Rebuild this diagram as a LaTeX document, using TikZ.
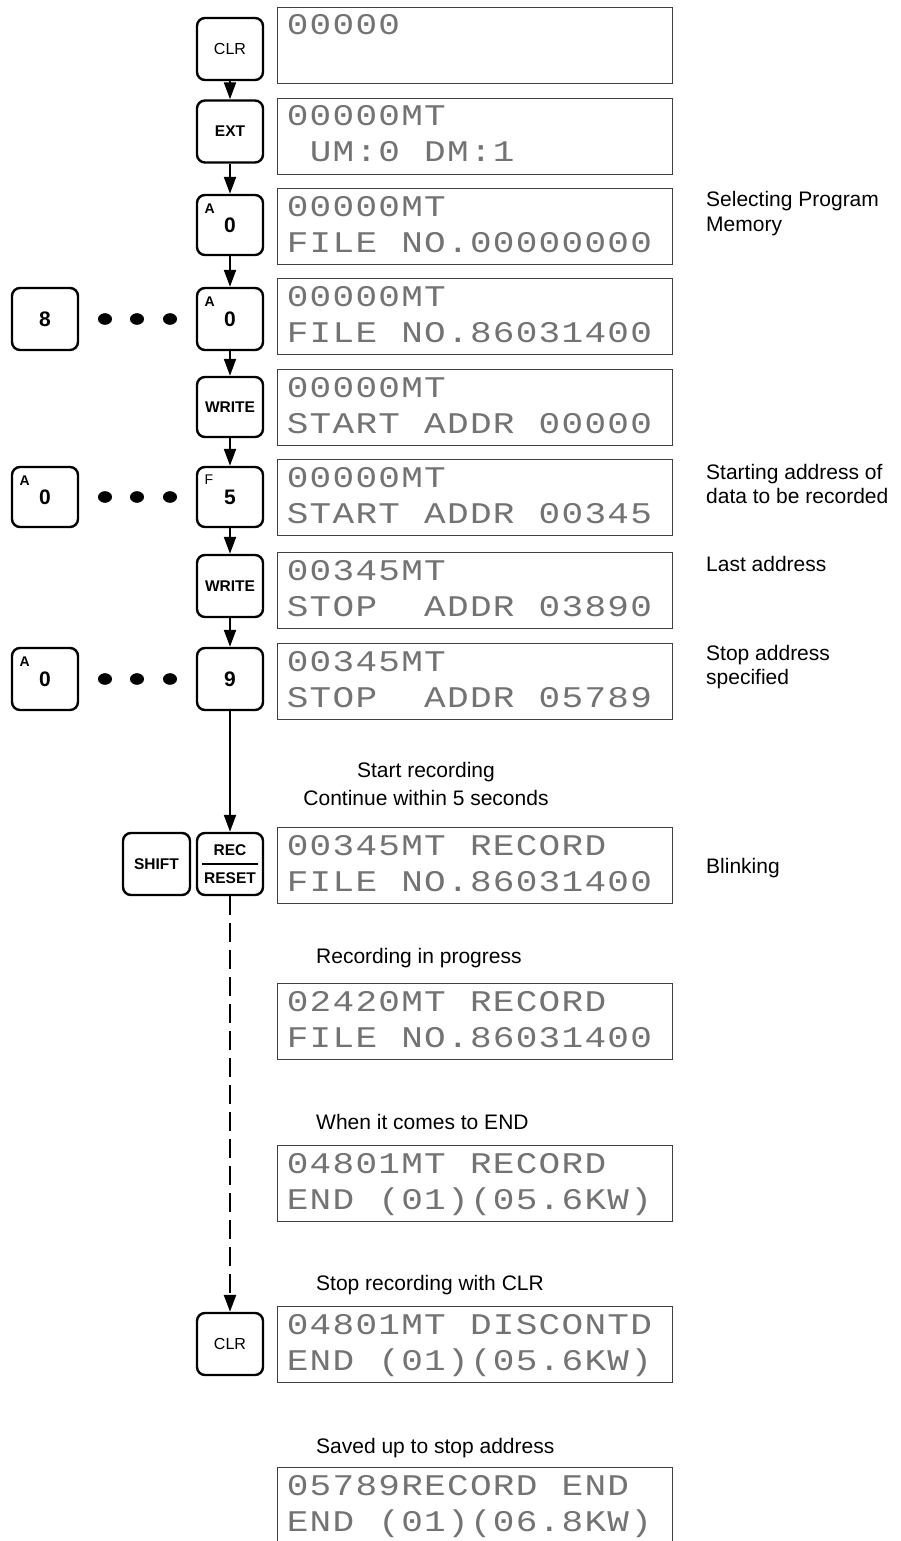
\documentclass[tikz,border=0pt]{standalone}
\usepackage{fontspec}
\setmainfont{Liberation Sans}
\newfontfamily\lcdfamily[FakeStretch=1.2]{Liberation Mono}
\usetikzlibrary{arrows.meta,calc}
\newcommand\lcd[1]{\lcdloop#1\relax}
\def\lcdloop#1{\ifx#1\relax\else\hbox to 22.9pt{\hss\lcdch#1\hss}\expandafter\lcdloop\fi}
\def\lcdch#1{\if*#1\else#1\fi}
\newcommand\keyfont{\fontsize{15.5}{18}\selectfont\bfseries}
\newcommand\keyreg{\fontsize{16}{18}\selectfont}
\newcommand\numfont{\fontsize{21}{24}\selectfont\bfseries}
\newcommand\supfont{\fontsize{14}{16}\selectfont\bfseries}
\newcommand\labfont{\fontsize{21}{24}\selectfont}
\begin{document}
\begin{tikzpicture}[x=1pt,y=-1pt,
  key/.style={draw, line width=2.4pt, rounded corners=8pt, minimum width=66pt,
    minimum height=62pt, inner sep=0pt, font=\keyfont},
  lcdbox/.style={draw=black!75, line width=1.3pt, minimum width=395pt,
    minimum height=76pt, inner sep=0pt},
  lcdtxt/.style={anchor=base west, inner sep=0pt, text=black!55,
    font=\lcdfamily\fontsize{30}{32}\selectfont},
  suplbl/.style={inner sep=0pt, font=\supfont},
  lbl/.style={anchor=base west, inner sep=0pt, font=\labfont},
  clbl/.style={anchor=base, inner sep=0pt, font=\labfont},
  arr/.style={line width=2.2pt, -{Triangle[length=17pt,width=12pt]}},
  dotmark/.style={fill=black}
]
\useasboundingbox (0,0) rectangle (900,1541);

% ---------- LCD boxes ----------
\foreach \n/\t in {1/7,2/98,3/188,4/278,5/369,6/459,7/552,8/643,9/827,10/983,11/1145,12/1306,13/1467}{
  \node[lcdbox, anchor=north west] (box\n) at (277,\t) {};
}
\newcommand\lcdlines[4]{%
  \node[lcdtxt] (#1a) at (286,#2+28) {\lcd{#3}};
  \node[lcdtxt] (#1b) at (286,#2+64) {\lcd{#4}};}
\node[lcdtxt] (t1a) at (286,35) {\lcd{00000}};
\lcdlines{t2}{98}{00000MT}{*UM:0*DM:1}
\lcdlines{t3}{188}{00000MT}{FILE*NO.00000000}
\lcdlines{t4}{278}{00000MT}{FILE*NO.86031400}
\lcdlines{t5}{369}{00000MT}{START*ADDR*00000}
\lcdlines{t6}{459}{00000MT}{START*ADDR*00345}
\lcdlines{t7}{552}{00345MT}{STOP**ADDR*03890}
\lcdlines{t8}{643}{00345MT}{STOP**ADDR*05789}
\lcdlines{t9}{827}{00345MT*RECORD}{FILE*NO.86031400}
\lcdlines{t10}{983}{02420MT*RECORD}{FILE*NO.86031400}
\lcdlines{t11}{1145}{04801MT*RECORD}{END*(01)(05.6KW)}
\lcdlines{t12}{1306}{04801MT*DISCONTD}{END*(01)(05.6KW)}
\lcdlines{t13}{1467}{05789RECORD*END}{END*(01)(06.8KW)}

% ---------- keys, main column ----------
\node[key, font=\keyreg] (clr1) at (230,49) {CLR};
\node[key] (ext) at (230,131.5) {EXT};
\node[key, font=\numfont, minimum height=60pt] (k0a) at (230,225) {0};
\node[key, font=\numfont] (k0b) at (230,319) {0};
\node[key, minimum height=60pt] (wr1) at (230,407) {WRITE};
\node[key, font=\numfont, minimum height=60pt] (k5) at (230,497) {5};
\node[key] (wr2) at (230,586) {WRITE};
\node[key, font=\numfont] (k9) at (230,679) {9};
\node[key] (rec) at (230,864) {};
\node[key, font=\keyreg] (clr2) at (230,1344) {CLR};

% ---------- keys, left ----------
\node[key, font=\numfont] (k8) at (45,319) {8};
\node[key, font=\numfont, minimum height=60pt] (l0a) at (45,497) {0};
\node[key, font=\numfont] (l0b) at (45,679) {0};
\node[key, minimum width=67pt] (shift) at (156.5,864) {SHIFT};

% ---------- small letters on keys ----------
\node[suplbl] (k0aA) at ([xshift=14pt,yshift=-15pt]k0a.north west) {A};
\node[suplbl] (k0bA) at ([xshift=14pt,yshift=-15pt]k0b.north west) {A};
\node[suplbl] (l0aA) at ([xshift=14pt,yshift=-15pt]l0a.north west) {A};
\node[suplbl] (l0bA) at ([xshift=14pt,yshift=-15pt]l0b.north west) {A};
\node[suplbl, font=\fontsize{14}{16}\selectfont] (k5F) at ([xshift=13pt,yshift=-14pt]k5.north west) {F};

% REC / RESET
\node[inner sep=0pt, font=\keyfont] (rectxt) at (230,850.5) {REC};
\node[inner sep=0pt, font=\keyfont] (resettxt) at (230,878) {RESET};
\draw[line width=1.8pt] ([xshift=6pt]rec.west) -- ([xshift=-6pt]rec.east);

% ---------- dots ----------
\foreach \y in {319,497,679}{
  \foreach \x in {105,137,170}{
    \fill[dotmark] (\x,\y) ellipse [x radius=7pt, y radius=5.8pt];
  }
}

% ---------- connectors ----------
\draw[arr] (clr1) -- (ext);
\draw[arr] (ext) -- (k0a);
\draw[arr] (k0a) -- (k0b);
\draw[arr] (k0b) -- (wr1);
\draw[arr] (wr1) -- (k5);
\draw[arr] (k5) -- (wr2);
\draw[arr] (wr2) -- (k9);
\draw[arr] (k9) -- (rec);
\draw[arr, line width=2.5pt, dash pattern=on 19pt off 8pt] (rec) -- (clr2);

% ---------- labels ----------
\node[lbl] (lsel1) at (706,207) {Selecting Program};
\node[lbl] (lsel2) at (706,231) {Memory};
\node[lbl] (lsta1) at (706,479) {Starting address of};
\node[lbl] (lsta2) at (706,503) {data to be recorded};
\node[lbl] (llast) at (706,571) {Last address};
\node[lbl] (lstop1) at (706,660) {Stop address};
\node[lbl] (lstop2) at (706,684) {specified};
\node[lbl] (lblink) at (706,873) {Blinking};
\node[clbl] (lstart) at (426,777) {Start recording};
\node[clbl] (lcont) at (426,805) {Continue within 5 seconds};
\node[lbl] (lprog) at (316,963) {Recording in progress};
\node[lbl] (lend) at (316,1129) {When it comes to END};
\node[lbl] (lstopclr) at (316,1290) {Stop recording with CLR};
\node[lbl] (lsaved) at (316,1453) {Saved up to stop address};
\end{tikzpicture}
\end{document}
